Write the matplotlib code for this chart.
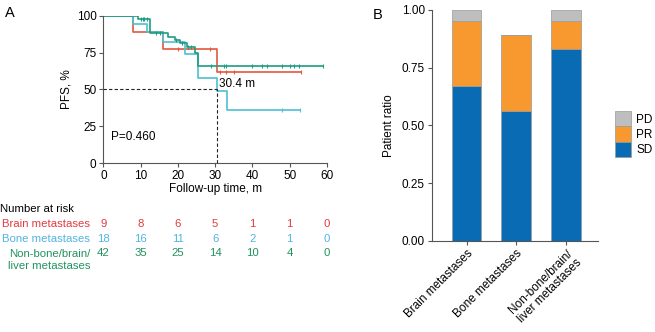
import numpy as np
import matplotlib.pyplot as plt
from matplotlib.patches import Patch
from matplotlib.transforms import blended_transform_factory

# --- panel A: Kaplan-Meier step data (time in months, PFS %) ---
brain_t = [0, 7.9, 16.0, 30.4, 53.0]
brain_s = [100, 88.9, 77.8, 62.2, 62.2]
brain_cens = [20.0, 28.5, 31.2, 33.0, 35.0, 53.0]

bone_t = [0, 7.8, 11.8, 16.0, 21.8, 25.5, 30.4, 33.2, 52.8]
bone_s = [100, 94.4, 88.9, 82.5, 74.2, 57.8, 49.2, 36.0, 36.0]
bone_cens = [48.0, 52.8]

other_t = [0, 9.4, 12.5, 17.3, 19.2, 20.6, 22.4, 24.6, 25.3, 59.0]
other_s = [100, 97.6, 88.5, 85.7, 83.3, 81.5, 79.0, 74.5, 65.7, 65.7]
other_cens = [10.0, 10.5, 11.0, 11.6, 14.2, 15.2, 19.6, 21.2, 22.8, 23.4, 29.0,
              32.4, 33.0, 39.8, 42.6, 44.0, 48.0, 50.0, 51.2, 52.6, 59.0]

median_t = 30.4
p_text = "P=0.460"

risk_times = [0, 10, 20, 30, 40, 50, 60]
risk_brain = [9, 8, 6, 5, 1, 1, 0]
risk_bone = [18, 16, 11, 6, 2, 1, 0]
risk_other = [42, 35, 25, 14, 10, 4, 0]

# --- panel B: response ratios ---
groups = ["Brain metastases", "Bone metastases", "Non-bone/brain/\nliver metastases"]
sd = [0.67, 0.56, 0.83]
pr = [0.28, 0.33, 0.12]
pd_ = [0.05, 0.0, 0.05]

c_red = "#E0583F"
c_blue = "#4EC0D2"
c_green = "#1F9C80"
t_red = "#E23A3F"
t_blue = "#52B4DE"
t_green = "#20925E"
c_sd, c_pr, c_pd = '#0A6BB5', '#F7992F', '#BEBEBE'
axis_col = '#555555'

plt.rcParams['font.family'] = ['Liberation Sans', 'DejaVu Sans']
plt.rcParams['font.size'] = 8.5

fig = plt.figure(figsize=(6.55, 3.32), dpi=100)

ax = fig.add_axes([0.158, 0.509, 0.341, 0.443])


def km(t, s, cens, color):
    ax.step(t, s, where='post', color=color, lw=1.2)
    cs = [s[np.searchsorted(t, c, side='right') - 1] for c in cens]
    ax.plot(cens, cs, ls='none', marker='|', ms=3, mew=0.8, color=color)


km(brain_t, brain_s, brain_cens, c_red)
km(bone_t, bone_s, bone_cens, c_blue)
km(other_t, other_s, other_cens, c_green)

ax.plot([0, median_t], [50, 50], ls=(0, (3, 2)), color='#222222', lw=0.8)
ax.plot([median_t, median_t], [0, 50], ls=(0, (3, 2)), color='#222222', lw=0.8)
ax.text(median_t + 0.6, 53.5, f"{median_t} m", va='center')
ax.text(2, 18, p_text, va='center')

ax.set_xlim(0, 60)
ax.set_ylim(0, 100)
ax.set_xticks(risk_times)
ax.set_yticks([0, 25, 50, 75, 100])
ax.spines['top'].set_visible(False)
ax.spines['right'].set_visible(False)
for sp in ['left', 'bottom']:
    ax.spines[sp].set_color(axis_col)
    ax.spines[sp].set_linewidth(0.8)
ax.tick_params(length=3, width=0.8, color=axis_col, pad=2)
ax.set_xlabel("Follow-up time, m", labelpad=1)
ax.set_ylabel("PFS, %", labelpad=3)

# number at risk table
tr = blended_transform_factory(ax.transData, fig.transFigure)
fs_risk = 8.2
fig.text(0.0, 1 - 209 / 332, "Number at risk", va='center', fontsize=fs_risk)
rows = [(risk_brain, t_red, "Brain metastases", 224, 224),
        (risk_bone, t_blue, "Bone metastases", 239, 239),
        (risk_other, t_green, "Non-bone/brain/\nliver metastases", 260, 253)]
for vals, col, lab, ylab, yrow in rows:
    fig.text(90 / 655, 1 - ylab / 332, lab, color=col, fontsize=fs_risk,
             ha='right', va='center', linespacing=1.15)
    for x, v in zip(risk_times, vals):
        ax.text(x, 1 - yrow / 332, str(v), transform=tr, color=col, fontsize=fs_risk,
                ha='center', va='center', clip_on=False)

fig.text(5 / 655, 1 - 13 / 332, "A", fontsize=10.5, va='center')
fig.text(373 / 655, 1 - 15 / 332, "B", fontsize=10.5, va='center')

# --- panel B ---
bx = fig.add_axes([0.659, 0.275, 0.254, 0.695])
xpos = np.arange(len(groups))
w = 0.6
edge = '#999999'
bx.bar(xpos, sd, w, color=c_sd, edgecolor=edge, lw=0.5)
bx.bar(xpos, pr, w, bottom=sd, color=c_pr, edgecolor=edge, lw=0.5)
bx.bar(xpos, pd_, w, bottom=np.add(sd, pr), color=c_pd, edgecolor=edge, lw=0.5)
bx.set_xlim(-0.7, 2.64)
bx.set_ylim(0, 1)
bx.set_yticks([0, 0.25, 0.5, 0.75, 1.0])
bx.set_yticklabels(["0.00", "0.25", "0.50", "0.75", "1.00"])
bx.set_xticks(xpos)
bx.set_xticklabels(groups, rotation=45, ha='right', rotation_mode='anchor',
                   linespacing=1.1)
bx.set_ylabel("Patient ratio", labelpad=5)
bx.spines['top'].set_visible(False)
bx.spines['right'].set_visible(False)
for sp in ['left', 'bottom']:
    bx.spines[sp].set_color(axis_col)
    bx.spines[sp].set_linewidth(0.8)
bx.tick_params(length=3, width=0.8, color=axis_col, pad=2)

handles = [Patch(facecolor=c_pd, edgecolor=edge, lw=0.5, label='PD'),
           Patch(facecolor=c_pr, edgecolor=edge, lw=0.5, label='PR'),
           Patch(facecolor=c_sd, edgecolor=edge, lw=0.5, label='SD')]
fig.legend(handles=handles, loc='center left', bbox_to_anchor=(609 / 655, 1 - 134 / 332),
           frameon=False, handlelength=1.4, handleheight=1.6, labelspacing=0,
           handletextpad=0.4, borderpad=0)

fig.savefig("out.png", dpi=100)
